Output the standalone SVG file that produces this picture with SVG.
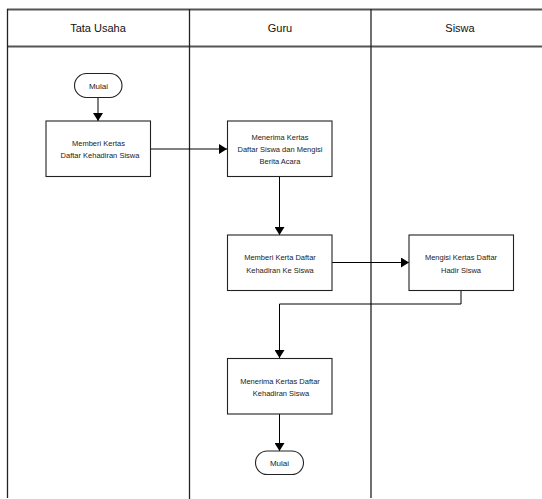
<svg xmlns="http://www.w3.org/2000/svg" width="542" height="499" viewBox="0 0 542 499">
  <style>
    .lane { stroke: #222; stroke-width: 1.3; fill: none; }
    .hdr { stroke: #555; stroke-width: 1.8; fill: none; }
    .title { font-family: "Liberation Sans", Arial, sans-serif; font-size: 11px; fill: #111; text-anchor: middle; }
    .box { fill: #fff; stroke: #222; stroke-width: 1.1; }
    .lbl { font-family: "Liberation Sans", Arial, sans-serif; font-size: 7.5px; fill: #222; text-anchor: middle; }
    .term { font-family: "Liberation Sans", Arial, sans-serif; font-size: 8px; fill: #222; text-anchor: middle; }
    .flow { stroke: #000; stroke-width: 1; fill: none; marker-end: url(#arrow); }
  </style>
  <defs>
    <marker id="arrow" markerUnits="userSpaceOnUse" markerWidth="8" markerHeight="10" viewBox="0 0 8 10" refX="8" refY="5" orient="auto">
      <path d="M0,0 L8,5 L0,10 Z" fill="#000"/>
    </marker>
  </defs>
  <rect width="542" height="499" fill="#fff"/>

  <!-- swimlane frame -->
  <g id="lanes">
    <line class="hdr" x1="7" y1="9.5" x2="542" y2="9.5"/>
    <line class="hdr" x1="7" y1="46.5" x2="542" y2="46.5"/>
    <line class="lane" x1="7.5" y1="9" x2="7.5" y2="498"/>
    <line class="lane" x1="189.5" y1="9" x2="189.5" y2="499"/>
    <line class="lane" x1="371" y1="9" x2="371" y2="498"/>
    <text class="title" x="98" y="32">Tata Usaha</text>
    <text class="title" x="280" y="32">Guru</text>
    <text class="title" x="460" y="32">Siswa</text>
  </g>

  <!-- connectors -->
  <g id="connectors">
    <line class="flow" x1="98" y1="97.5" x2="98" y2="121"/>
    <line class="flow" x1="150.5" y1="149" x2="227" y2="149"/>
    <line class="flow" x1="279.5" y1="176.5" x2="279.5" y2="235"/>
    <line class="flow" x1="332" y1="262.5" x2="409" y2="262.5"/>
    <polyline class="flow" points="461,290.5 461,304 279.5,304 279.5,358"/>
    <line class="flow" x1="279.5" y1="414" x2="279.5" y2="451"/>
  </g>

  <g id="start">
    <rect class="box" x="74.5" y="73.5" width="47.5" height="24" rx="12"/>
    <text class="term" x="98.5" y="88.5">Mulai</text>
  </g>

  <g id="memberi-kertas">
    <rect class="box" x="46" y="121" width="104.5" height="55.5"/>
    <text class="lbl" x="98.5" y="146">Memberi Kertas</text>
    <text class="lbl" x="100" y="158">Daftar Kehadiran Siswa</text>
  </g>

  <g id="menerima-kertas">
    <rect class="box" x="227.5" y="121" width="104.5" height="55.5"/>
    <text class="lbl" x="280" y="139.5">Menerima Kertas</text>
    <text class="lbl" x="280" y="151.5">Daftar Siswa dan Mengisi</text>
    <text class="lbl" x="280" y="164">Berita Acara</text>
  </g>

  <g id="memberi-ke-siswa">
    <rect class="box" x="227.5" y="235" width="104.5" height="55.5"/>
    <text class="lbl" x="280" y="260">Memberi Kerta Daftar</text>
    <text class="lbl" x="280" y="273">Kehadiran Ke Siswa</text>
  </g>

  <g id="mengisi-kertas">
    <rect class="box" x="409" y="235" width="104.5" height="55.5"/>
    <text class="lbl" x="461" y="259.5">Mengisi Kertas Daftar</text>
    <text class="lbl" x="461" y="273">Hadir Siswa</text>
  </g>

  <g id="menerima-kehadiran">
    <rect class="box" x="227.5" y="358.5" width="104.5" height="55.5"/>
    <text class="lbl" x="280" y="383.5">Menerima Kertas Daftar</text>
    <text class="lbl" x="281" y="395.5">Kehadiran Siswa</text>
  </g>

  <g id="end">
    <rect class="box" x="255.5" y="451" width="48" height="23.5" rx="11.75"/>
    <text class="term" x="279.5" y="466">Mulai</text>
  </g>
</svg>
